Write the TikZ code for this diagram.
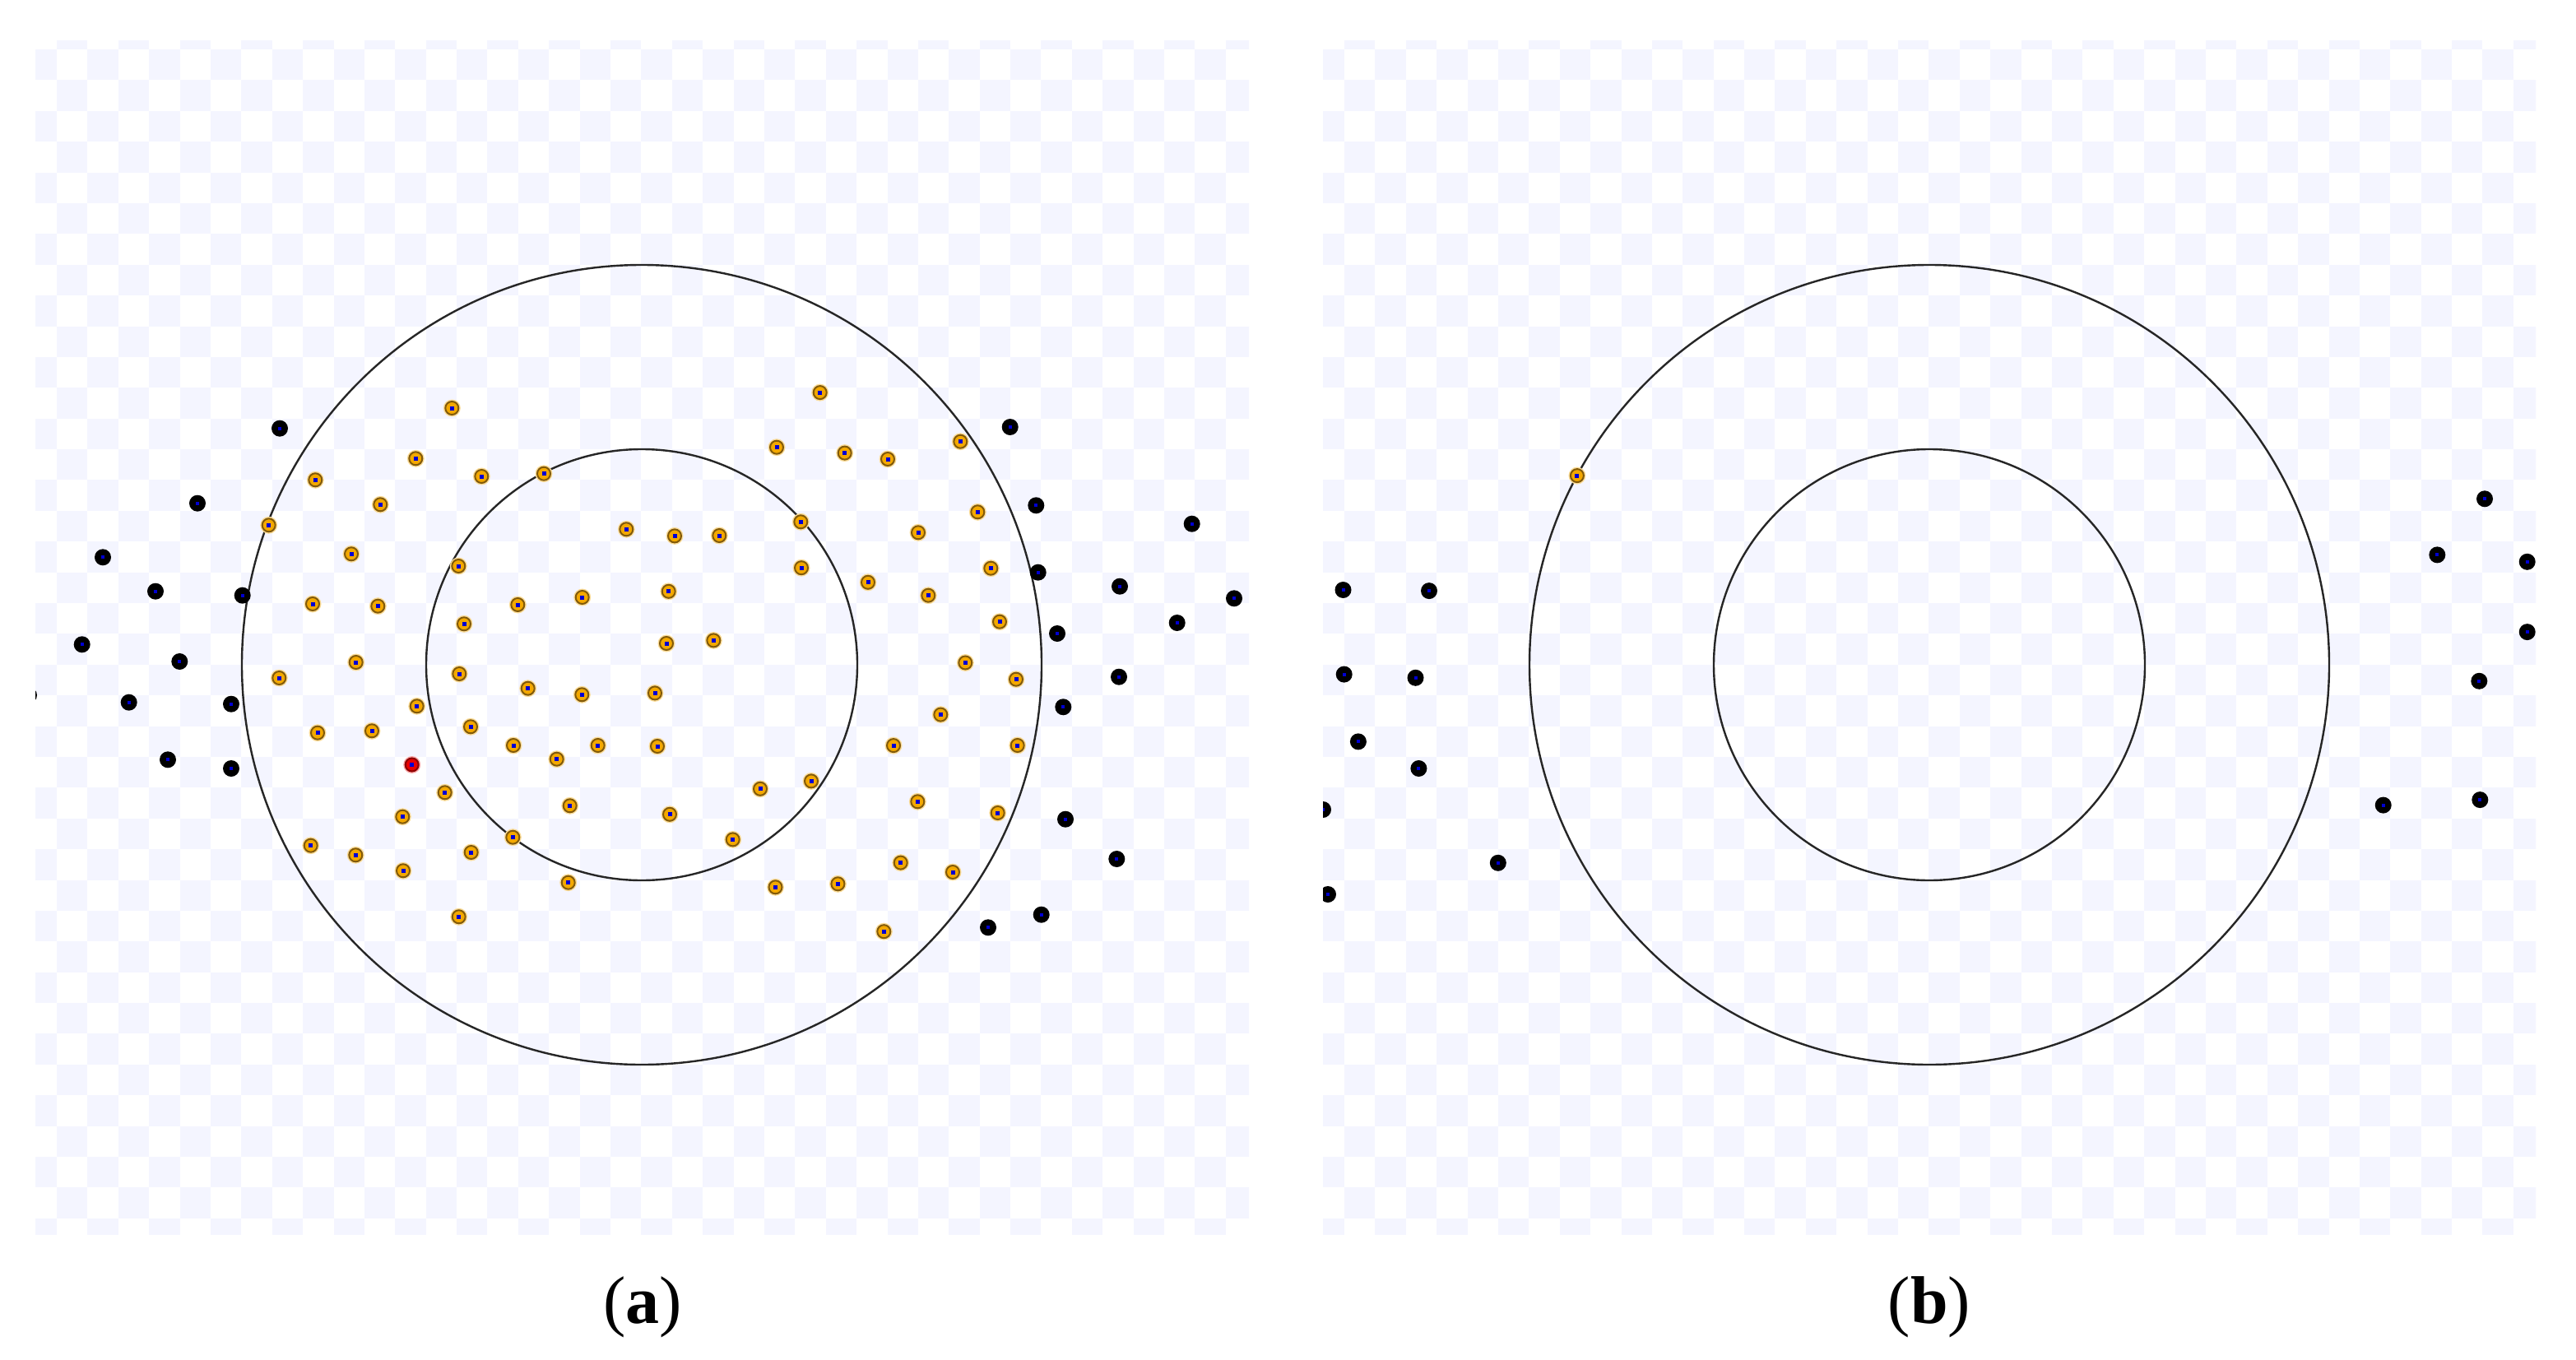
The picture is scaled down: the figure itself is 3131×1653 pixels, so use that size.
\documentclass[tikz,border=0pt]{standalone}
\usepackage{fontspec}
\setmainfont{Liberation Serif}
\definecolor{lav}{RGB}{244,245,255}
\definecolor{cblue}{RGB}{0,0,210}
\definecolor{corange}{RGB}{243,168,0}
\definecolor{cbrown}{RGB}{130,90,10}
\definecolor{cred}{RGB}{232,0,0}
\definecolor{cdred}{RGB}{140,0,0}
\tikzset{
  ring/.style={draw=black!85, line width=2.4pt},
  captext/.style={anchor=base, font=\fontsize{82}{90}\selectfont},
}
\newcommand\checkers{%
  \foreach \j in {0,...,39}{%
    \foreach \i in {0,...,39}{%
      \ifodd\numexpr\i+\j\relax
        \fill[lav] (31.6+37.39*\i,22.6+37.39*\j) rectangle ++(37.39,37.39);
      \fi
    }%
  }%
}
\newcommand\blackdots[1]{%
  \foreach \p in {#1}{%
    \fill[black] \p circle (10pt);
    \fill[cblue] \p ++(-2pt,-2pt) rectangle ++(4pt,4pt);
  }%
}
\newcommand\orangedots[1]{%
  \foreach \p in {#1}{%
    \fill[corange!40] \p circle (10.5pt);
    \filldraw[fill=corange, draw=cbrown, line width=2pt] \p circle (8pt);
    \fill[cblue] \p ++(-2.5pt,-2.5pt) rectangle ++(5pt,5pt);
  }%
}
\begin{document}
\begin{tikzpicture}[x=1pt,y={(0pt,-1pt)}]
\useasboundingbox (0,0) rectangle (3131,1653);
\fill[white] (0,0) rectangle (3131,1653);
% ---------------- panel (a) ----------------
\begin{scope}
  \clip (43,50) rectangle (1518,1500);
  \checkers
  \draw[ring] (780,808) circle (486pt);
  \draw[ring] (780,808) circle (262pt);
  \blackdots{(340,520.7),(240,611.7),(125,677.3),(189,718.7),(294.7,723.7),(99.7,783.3),(218.3,804),(35,845),(156.7,853.7),(281,855.7),(204,923.3),(281,934),
    (1227.7,519),(1259.3,614.3),(1448.7,636.7),(1261.7,695.7),(1361,712.7),(1500,727.3),(1430.7,757),(1285,770),(1360,822.7),(1292.3,859.3),(1295,995.7),(1357.3,1044),(1265.7,1111.7),(1201,1127.3)}
  \orangedots{(549.3,496),(505.3,557.3),(585.3,579),(661,575.7),(383.3,583.3),(462.3,613.3),(326.7,638.3),(761.3,643.3),(427,673.3),(557.3,688),(380,734),(459.3,736.7),(629.3,735),(707.7,726),(564,758.3),(432.7,805),(339.3,824),(558.3,819),(641.7,836.7),(707.3,844.3),(506.7,858.3),(386,890.7),(452,888.3),(572,883.3),(624,906),(676.7,922.7),(726.7,906),
    (996.7,477.1),(944,543.7),(1026.7,550.6),(1079,558),(1167.3,536.7),(820,651.4),(874.3,651),(973.3,634.3),(1116,647.3),(974,690.2),(1055,707.8),(1128.3,723.7),(812.7,718.8),(810,782),(867.3,778.4),(1173.3,805.5),(796,842.4),(1143.3,868.6),(799,907),(1086,906.1),(924,958.8),(986,949.4),(1115.3,974.3),(814,989.8),(890.7,1020.4),(1094.7,1048.6),(1158,1060),
    (1188.3,622.3),(1204.3,690.7),(1215,755.7),(1235,825.7),(1236.7,906),(1212.7,988),
    (540.7,963.3),(489.3,992.7),(692.7,979.3),(377.7,1027.7),(432.3,1039.3),(490,1058.3),(572.7,1036),(623.3,1017.7),(690.7,1072.7),(557.7,1114.3),
    (942.5,1078.3),(1018.4,1074.3),(1074.3,1132.2)}
  % red point
  \fill[cred!35] (500.7,929.5) circle (10.5pt);
  \filldraw[fill=cred, draw=cdred, line width=2pt] (500.7,929.5) circle (8pt);
  \fill[cblue] (500.7,929.5) ++(-2.5pt,-2.5pt) rectangle ++(5pt,5pt);
\end{scope}
% ---------------- panel (b) ----------------
\begin{scope}
  \clip (1608,50) rectangle (3082,1500);
  \begin{scope}[xshift=1565pt]
    \checkers
  \end{scope}
  \draw[ring] (2345,808) circle (486pt);
  \draw[ring] (2345,808) circle (262pt);
  \blackdots{(1632.5,717),(1737,718.1),(1633.7,819.6),(1720.5,823.8),(1650.9,901.4),(1724.4,934),(1608,984),(1820.8,1048.8),(1614,1087),
    (3020,606.3),(2962.3,674.4),(3071.7,682.8),(3071.7,768.1),(3013.3,827.8),(2896.7,978.6),(3014.3,972.1)}
  \orangedots{(1916.9,578.1)}
\end{scope}
% ---------------- captions ----------------
\node[captext] (capa) at (780.8,1608) {(\textbf{a})};
\node[captext] (capb) at (2345,1608) {(\textbf{b})};
\end{tikzpicture}
\end{document}
